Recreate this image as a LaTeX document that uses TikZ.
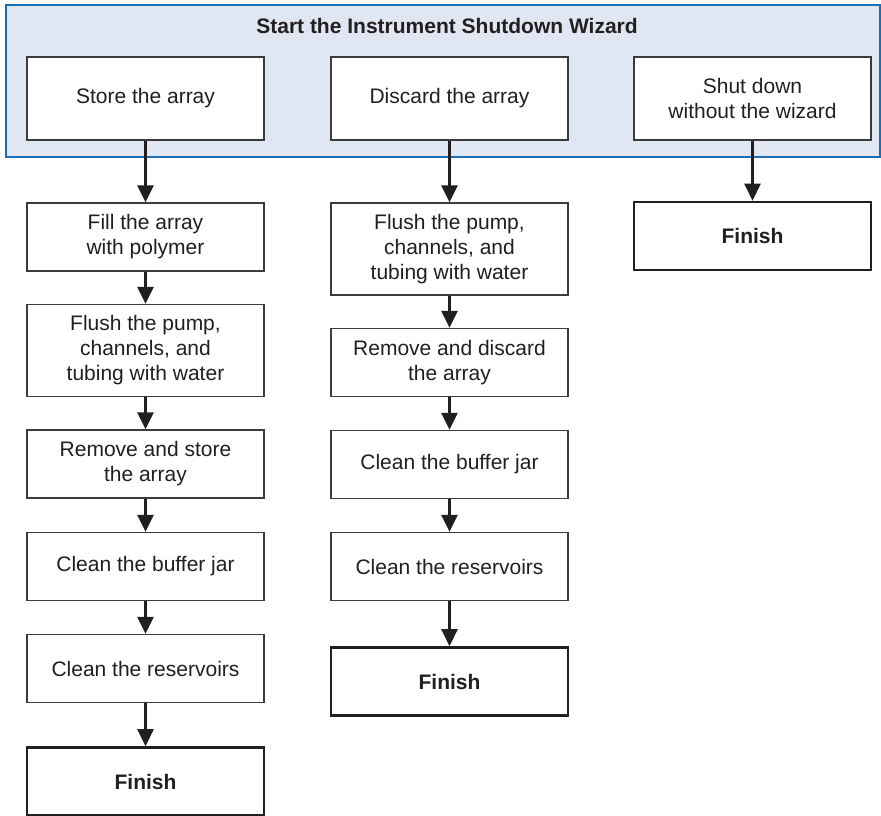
\documentclass[tikz,border=0pt]{standalone}
\usepackage{fontspec}
\setmainfont{Liberation Sans}
\usetikzlibrary{arrows.meta}
\definecolor{panelfill}{HTML}{E1E7F2}
\definecolor{panelline}{HTML}{1B6DB6}
\definecolor{ink}{HTML}{231F20}
\definecolor{boxline}{HTML}{3C3C3C}
\begin{document}
\begin{tikzpicture}[x=1pt,y=-1pt,
  stepbox/.style={draw=boxline, line width=1.3pt, fill=white, minimum width=237pt,
    minimum height=68pt, inner sep=0pt, align=center, text=ink,
    font=\fontsize{21}{25}\selectfont},
  tallbox/.style={stepbox, minimum height=92pt},
  topbox/.style={stepbox, minimum height=83pt},
  finbox/.style={stepbox, draw=ink, line width=2.6pt, font=\fontsize{21}{25}\selectfont\bfseries},
  arr/.style={-{Triangle[length=17pt,width=16pt]}, line width=2.5pt, draw=ink},
  titletext/.style={text=ink, font=\fontsize{21}{25}\selectfont\bfseries, inner sep=0pt}]
\useasboundingbox (0,0) rectangle (881,816);
% panel
\fill[panelfill] (6,5) rectangle (880,157);
\draw[panelline, line width=2.4pt] (6,5) rectangle (880,157);
\node[titletext] (title) at (447,26) {Start the Instrument Shutdown Wizard};
% top boxes
\node[topbox] (store) at (145.5,98.5) {Store the array};
\node[topbox] (discard) at (449.5,98.5) {Discard the array};
\node[topbox] (shut) at (752.5,98.5) {Shut down\\without the wizard};
% left column
\node[stepbox] (fill) at (145.5,237) {Fill the array\\with polymer};
\node[tallbox] (flushA) at (145.5,350.5) {Flush the pump,\\channels, and\\tubing with water};
\node[stepbox] (removeA) at (145.5,464) {Remove and store\\the array};
\node[stepbox] (bufferA) at (145.5,566.5) {Clean the buffer jar};
\node[stepbox] (resA) at (145.5,668.5) {Clean the reservoirs};
\node[finbox] (finA) at (145.5,781.5) {Finish};
% middle column
\node[tallbox] (flushB) at (449.5,249) {Flush the pump,\\channels, and\\tubing with water};
\node[stepbox] (removeB) at (449.5,362.5) {Remove and discard\\the array};
\node[stepbox] (bufferB) at (449.5,464.5) {Clean the buffer jar};
\node[stepbox] (resB) at (449.5,566.5) {Clean the reservoirs};
\node[finbox] (finB) at (449.5,681.5) {Finish};
% right column
\node[finbox] (finC) at (752.5,236) {Finish};
% arrows
\draw[arr] (store) -- (fill);
\draw[arr] (fill) -- (flushA);
\draw[arr] (flushA) -- (removeA);
\draw[arr] (removeA) -- (bufferA);
\draw[arr] (bufferA) -- (resA);
\draw[arr] (resA) -- (finA);
\draw[arr] (discard) -- (flushB);
\draw[arr] (flushB) -- (removeB);
\draw[arr] (removeB) -- (bufferB);
\draw[arr] (bufferB) -- (resB);
\draw[arr] (resB) -- (finB);
\draw[arr] (shut) -- (finC);
\end{tikzpicture}
\end{document}
